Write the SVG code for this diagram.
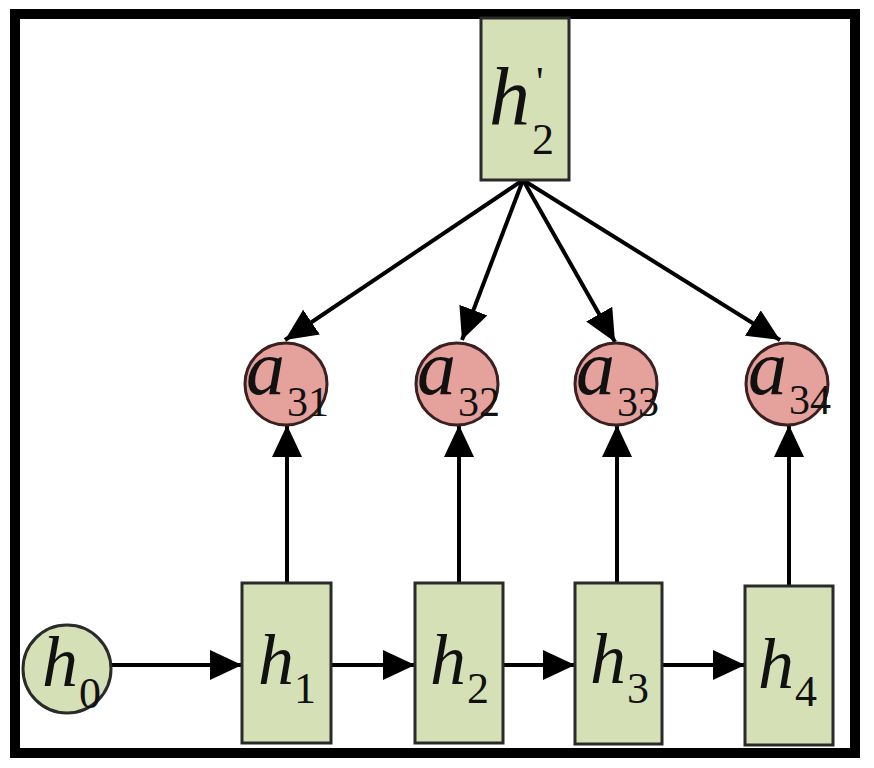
<svg xmlns="http://www.w3.org/2000/svg" width="874" height="768" viewBox="0 0 874 768">
<style>
.box{fill:#d5e0b6;stroke:#2a2a2a;stroke-width:3}
.hc{fill:#d5e0b6;stroke:#2a2a2a;stroke-width:3}
.ac{fill:#e5a19c;stroke:#3a2020;stroke-width:3}
.ln{stroke:#000;stroke-width:4;fill:none;marker-end:url(#ah)}
.t{font-family:"Liberation Serif","Times New Roman",serif;font-style:italic;fill:#111}
.hm{font-size:72px}
.hs{font-size:44px;font-style:normal}
.am{font-size:78px}
.as{font-size:42px;font-style:normal}
</style>
<defs>
<marker id="ah" markerUnits="userSpaceOnUse" markerWidth="34" markerHeight="30" viewBox="0 0 34 30" refX="32" refY="15" orient="auto">
<path d="M0,0 L32,15 L0,30 Z" fill="#000"/>
</marker>
</defs>
<rect x="0" y="0" width="874" height="768" fill="#fff"/>
<rect x="15" y="14" width="840" height="739" fill="none" stroke="#000" stroke-width="10"/>
<g id="connectors">
<line class="ln" x1="523" y1="180" x2="285" y2="340"/>
<line class="ln" x1="523" y1="180" x2="462" y2="340"/>
<line class="ln" x1="523" y1="180" x2="615" y2="342"/>
<line class="ln" x1="523" y1="180" x2="780" y2="340"/>
<line class="ln" x1="287" y1="583" x2="287" y2="425"/>
<line class="ln" x1="459" y1="583" x2="459" y2="425"/>
<line class="ln" x1="617" y1="583" x2="617" y2="425"/>
<line class="ln" x1="789" y1="586" x2="789" y2="425"/>
<line class="ln" x1="112" y1="665" x2="242" y2="665"/>
<line class="ln" x1="331" y1="665" x2="415" y2="665"/>
<line class="ln" x1="503" y1="665" x2="575" y2="665"/>
<line class="ln" x1="662" y1="665" x2="745" y2="665"/>
</g>
<g id="h2p">
<rect class="box" x="481" y="18" width="88" height="162"/>
<text class="t" style="font-size:82px" x="489" y="124">h</text>
<text class="t hs" x="532" y="154">2</text>
<text class="t" style="font-size:42px;font-style:normal" x="536" y="96">'</text>
</g>
<g id="a31">
<circle class="ac" cx="286" cy="384" r="41"/>
<text class="t am" x="246" y="394">a</text>
<text class="t as" x="287" y="416">31</text>
</g>
<g id="a32">
<circle class="ac" cx="457" cy="384" r="41"/>
<text class="t am" x="417" y="394">a</text>
<text class="t as" x="458" y="416">32</text>
</g>
<g id="a33">
<circle class="ac" cx="616" cy="384" r="41"/>
<text class="t am" x="576" y="394">a</text>
<text class="t as" x="617" y="416">33</text>
</g>
<g id="a34">
<circle class="ac" cx="787" cy="384" r="41"/>
<text class="t am" x="748" y="394">a</text>
<text class="t as" x="789" y="414">34</text>
</g>
<g id="h0">
<circle class="hc" cx="67" cy="669" r="44"/>
<text class="t hm" x="42" y="686">h</text>
<text class="t hs" x="79" y="708">0</text>
</g>
<g id="h1">
<rect class="box" x="242" y="583" width="89" height="160"/>
<text class="t hm" x="258" y="684">h</text>
<text class="t hs" x="294" y="703">1</text>
</g>
<g id="h2">
<rect class="box" x="415" y="583" width="88" height="160"/>
<text class="t hm" x="430" y="684">h</text>
<text class="t hs" x="467" y="703">2</text>
</g>
<g id="h3">
<rect class="box" x="575" y="583" width="87" height="161"/>
<text class="t hm" x="590" y="683">h</text>
<text class="t hs" x="627" y="703">3</text>
</g>
<g id="h4">
<rect class="box" x="745" y="586" width="88" height="159"/>
<text class="t hm" x="758" y="688">h</text>
<text class="t hs" x="795" y="706">4</text>
</g>
</svg>
